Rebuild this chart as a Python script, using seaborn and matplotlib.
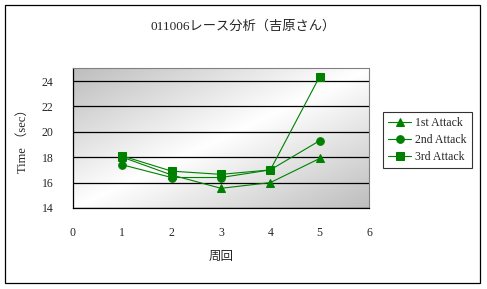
import numpy as np
import pandas as pd
import matplotlib
matplotlib.use("Agg")
import matplotlib.pyplot as plt
from matplotlib.patches import Rectangle
from matplotlib.colors import LinearSegmentedColormap
import seaborn as sns

laps = [1, 2, 3, 4, 5]
attack1 = [18.0, 16.6, 15.55, 16.0, 17.9]
attack2 = [17.4, 16.4, 16.4, 17.0, 19.3]
attack3 = [18.1, 16.9, 16.65, 17.0, 24.35]
series_names = ["1st Attack", "2nd Attack", "3rd Attack"]
title = "011006レース分析（吉原さん）"
xlabel = "周回"
ylabel = "Time （sec）"
xticks = [0, 1, 2, 3, 4, 5, 6]
yticks = [14, 16, 18, 20, 22, 24]

df = pd.DataFrame({
    "lap": laps * 3,
    "time": attack1 + attack2 + attack3,
    "series": sum([[n] * len(laps) for n in series_names], []),
})

sns.set_style("white")
plt.rcParams["font.family"] = ["Liberation Serif", "Noto Sans CJK JP", "DejaVu Sans"]

fig = plt.figure(figsize=(4.87, 2.89), dpi=100)
ax = fig.add_axes([73/487, 1-208/289, (369-73)/487, (208-68.3)/289])

# gradient background
n = 200
xx, yy = np.meshgrid(np.linspace(0, 1, n), np.linspace(1, 0, n))
d = (xx + (1 - yy)) / 2  # 0 at top-left, 1 at bottom-right
val = 1 - np.abs(d - 0.5) * 2  # 1 in the middle
cmap = LinearSegmentedColormap.from_list("g", ["#bdbdbd", "#ffffff"])
ax.imshow(val, cmap=cmap, extent=[0, 1, 0, 1], transform=ax.transAxes,
          aspect="auto", zorder=0, vmin=0, vmax=1)

green = "#008000"
sns.lineplot(data=df, x="lap", y="time", hue="series", style="series",
             palette=[green, green, green], markers=["^", "o", "s"],
             dashes=False, markersize=5.5, linewidth=0.8,
             markeredgecolor=green, ax=ax, zorder=3)

ax.set_xlim(0, 6)
ax.set_ylim(14, 25)
ax.set_xticks(xticks)
ax.set_yticks(yticks)
ax.set_xticklabels([str(t) for t in xticks], fontsize=8.5)
ax.set_yticklabels([str(t) for t in yticks], fontsize=8.5)
for y in yticks:
    ax.axhline(y, color="black", linewidth=0.9, zorder=1)
ax.tick_params(axis="x", direction="in", length=3, width=0.8, pad=14, color="black")
ax.tick_params(axis="y", length=0, pad=14)
for s in ["top", "right"]:
    ax.spines[s].set_color("#808080")
    ax.spines[s].set_linewidth(0.8)
for s in ["left", "bottom"]:
    ax.spines[s].set_color("black")
    ax.spines[s].set_linewidth(0.9)

ax.set_xlabel(xlabel, fontsize=9, labelpad=8)
ax.set_ylabel(ylabel, fontsize=9, labelpad=9)
fig.text(0.5, 1 - 26/289, title, ha="center", va="center", fontsize=9.5)

leg = ax.legend(title=None, loc="upper left", bbox_to_anchor=(383/487, 1-112/289),
                bbox_transform=fig.transFigure, frameon=True, fancybox=False,
                fontsize=8.5, handlelength=1.9, borderpad=0.45, labelspacing=0.4,
                handletextpad=0.35, borderaxespad=0)
leg.get_frame().set_edgecolor("black")
leg.get_frame().set_linewidth(0.8)

fig.patches.append(Rectangle((5/487, 1-283/289), 475/487, 278/289, transform=fig.transFigure,
                             fill=False, edgecolor="black", linewidth=0.9))

fig.savefig("out.png", dpi=100)
